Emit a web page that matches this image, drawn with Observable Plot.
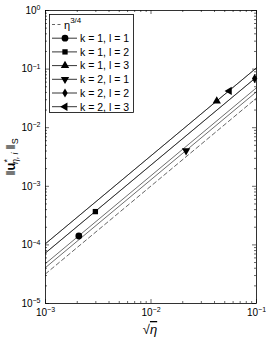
<!DOCTYPE html>
<html><head><meta charset="utf-8">
<script src="https://cdn.jsdelivr.net/npm/d3@7"></script>
<script src="https://cdn.jsdelivr.net/npm/@observablehq/plot@0.6"></script>
<style>body{margin:0;background:#fff} svg{font-family:"Liberation Sans",Arial,sans-serif}</style>
</head><body><div id="chart"></div>
<script>
// ---- data ----
const seriesNames = ["k = 1, l = 1","k = 1, l = 2","k = 1, l = 3","k = 2, l = 1","k = 2, l = 2","k = 2, l = 3"];
const lineX = [1e-3, 1e-1];
const lineY = [[4.8e-5, 0.048],[7.3e-5, 0.073],[1.05e-4, 0.105],[4.1e-5, 0.041],[7.3e-5, 0.073],[1.05e-4, 0.105]];
const markerX = [2.07e-3, 2.97e-3, 0.042, 0.0215, 0.096, 0.0553];
const markerY = [1.42e-4, 3.7e-4, 0.0285, 4.05e-3, 0.069, 0.0425];
const markerSymbol = ["circle","square","triangle","triangle","diamond","triangle"];
const markerRotate = [0, 0, 0, 180, 0, -90];
const refName = "η";
const refExp = "3/4";
const refY = [3.2e-5, 0.032];
const xTicks = [1e-3, 1e-2, 1e-1];
const yTicks = [1e-5, 1e-4, 1e-3, 1e-2, 1e-1, 1];
const minorDigits = [2,3,4,5,6,7,8,9];

const W = 266, H = 341, mL = 45, mR = 10, mT = 10, mB = 38;
const innerH = H - mT - mB, innerW = W - mL - mR;

const lineData = [];
seriesNames.forEach((s, i) => lineX.forEach((x, j) => lineData.push({s, x, y: lineY[i][j]})));
const refData = lineX.map((x, j) => ({x, y: refY[j]}));
const xMinor = xTicks.slice(0, -1).flatMap(t => minorDigits.map(d => d * t));
const yMinor = yTicks.slice(0, -1).flatMap(t => minorDigits.map(d => d * t));
const sizes = {circle: 3.4, square: 3.0, triangle: 3.1, diamond: 2.8};
const fmt = d => "10^" + Math.round(Math.log10(d));

const marks = [
  Plot.ruleX(xTicks, {x: d => d, insetTop: innerH - 4, stroke: "#000", strokeWidth: 0.6}),
  Plot.ruleX(xTicks, {x: d => d, insetBottom: innerH - 4, stroke: "#000", strokeWidth: 0.6}),
  Plot.ruleX(xMinor, {x: d => d, insetTop: innerH - 2, stroke: "#000", strokeWidth: 0.6}),
  Plot.ruleX(xMinor, {x: d => d, insetBottom: innerH - 2, stroke: "#000", strokeWidth: 0.6}),
  Plot.ruleY(yTicks, {y: d => d, insetRight: innerW - 4, stroke: "#000", strokeWidth: 0.6}),
  Plot.ruleY(yTicks, {y: d => d, insetLeft: innerW - 4, stroke: "#000", strokeWidth: 0.6}),
  Plot.ruleY(yMinor, {y: d => d, insetRight: innerW - 2, stroke: "#000", strokeWidth: 0.6}),
  Plot.ruleY(yMinor, {y: d => d, insetLeft: innerW - 2, stroke: "#000", strokeWidth: 0.6}),
  Plot.axisX(xTicks, {tickSize: 0, tickPadding: 5, tickFormat: fmt, fontSize: 10, label: null}),
  Plot.axisY(yTicks, {tickSize: 0, tickPadding: 5, tickFormat: fmt, fontSize: 10, label: null}),
  Plot.line(refData, {x: "x", y: "y", stroke: "#222", strokeWidth: 0.7, strokeDasharray: "4,3"}),
  Plot.line(lineData, {x: "x", y: "y", z: "s", stroke: "#000", strokeWidth: 0.8, strokeOpacity: 0.72}),
  ...seriesNames.map((s, i) => Plot.dot([{x: markerX[i], y: markerY[i]}], {
    x: "x", y: "y", symbol: markerSymbol[i], rotate: markerRotate[i], r: sizes[markerSymbol[i]],
    fill: "#000", stroke: "none"})),
  Plot.frame({stroke: "#000", strokeWidth: 0.8})
];

const chart = Plot.plot({
  width: W, height: H, marginLeft: mL, marginRight: mR, marginTop: mT, marginBottom: mB,
  style: {fontFamily: '"Liberation Sans", Arial, sans-serif', background: "#fff", color: "#000"},
  x: {type: "log", domain: [1e-3, 1e-1]},
  y: {type: "log", domain: [1e-5, 1]},
  marks
});
document.getElementById("chart").appendChild(chart);

d3.select(chart).selectAll('g[aria-label$="tick label"] text').each(function() {
  const t = this.textContent;
  if (!t.startsWith("10^")) return;
  const e = t.slice(3).replace("-", "\u2212");
  const sel = d3.select(this);
  sel.text("10");
  sel.append("tspan").attr("dy", "-0.5em").attr("font-size", "7px").text(e);
});

const svg = d3.select(chart);
const ff = '"Liberation Sans", Arial, sans-serif';

// y-axis label
const yl = svg.append("text").attr("transform", "translate(15,157) rotate(-90)")
  .attr("text-anchor", "middle").attr("font-size", 13).attr("font-family", ff).attr("fill", "#000");
yl.append("tspan").text("\u2016");
yl.append("tspan").attr("font-weight", "bold").text("u");
yl.append("tspan").attr("dy", "-5").attr("font-size", 9).text("*");
yl.append("tspan").attr("dy", "8").attr("dx", "-5").attr("font-size", 9).attr("font-style", "italic").text("\u03b7,\u2009i");
yl.append("tspan").attr("dy", "-3").attr("dx", "3").text("\u2016");
yl.append("tspan").attr("dy", "3").attr("font-size", 9).text("S");

// x-axis label
const xl = svg.append("text").attr("x", 150).attr("y", 334).attr("text-anchor", "middle")
  .attr("font-size", 13).attr("font-family", ff).attr("fill", "#000");
xl.append("tspan").text("\u221a");
xl.append("tspan").attr("font-style", "italic").attr("text-decoration", "overline").text("\u03b7");

// legend
const lg = svg.append("g").attr("font-family", ff).attr("text-anchor", "start").attr("fill", "#000");
lg.append("rect").attr("x", 49.5).attr("y", 14.5).attr("width", 84).attr("height", 98)
  .attr("fill", "#fff").attr("stroke", "#000").attr("stroke-width", 0.8);
const rowY = i => 24.5 + 13.7 * i;
lg.append("line").attr("x1", 52).attr("x2", 63).attr("y1", rowY(0)).attr("y2", rowY(0))
  .attr("stroke", "#222").attr("stroke-width", 0.7).attr("stroke-dasharray", "3,2.5");
const rt = lg.append("text").attr("x", 64).attr("y", rowY(0) + 4).attr("font-size", 11).attr("fill", "#000");
rt.append("tspan").text(refName);
rt.append("tspan").attr("dy", "-6").attr("font-size", 8).text(refExp);
const symMap = {circle: d3.symbolCircle, square: d3.symbolSquare, triangle: d3.symbolTriangle, diamond: d3.symbolDiamond};
seriesNames.forEach((s, i) => {
  const y = rowY(i + 1);
  lg.append("line").attr("x1", 52).attr("x2", 77).attr("y1", y).attr("y2", y)
    .attr("stroke", "#000").attr("stroke-width", 0.8);
  const r = sizes[markerSymbol[i]];
  lg.append("path").attr("d", d3.symbol(symMap[markerSymbol[i]], Math.PI * r * r)())
    .attr("transform", `translate(65,${y}) rotate(${markerRotate[i]})`).attr("fill", "#000");
  lg.append("text").attr("x", 80).attr("y", y + 3.8).attr("font-size", 10.5).attr("fill", "#000").text(s);
});
</script></body></html>
